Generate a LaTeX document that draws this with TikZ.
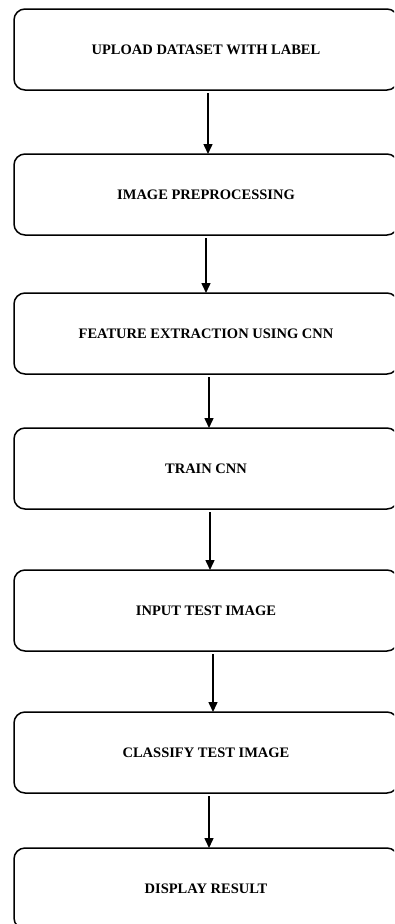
\documentclass[tikz,border=0pt]{standalone}
\usepackage{fontspec}
\setmainfont{Liberation Serif}
\usepackage{tikz}
\usetikzlibrary{shapes.geometric, arrows.meta}
\usetikzlibrary{positioning}
\tikzstyle{process} = [rectangle, rounded corners=11pt, minimum width=384pt, minimum height=81pt, outer sep=0pt, text centered, draw=black, line width=1.5pt, font=\fontsize{14.5}{16}\selectfont\bfseries]
\tikzstyle{arrow} = [line width=1.5pt,-{Triangle[length=10pt,width=9pt]},shorten <=3pt]

\begin{document}
\begin{tikzpicture}[x=1pt, y=-1pt]
\useasboundingbox (0,0) rectangle (394,924);
\clip (0,0) rectangle (394,924);
\node (upload) [process] at (206,49.5) {UPLOAD DATASET WITH LABEL};
\node (prep) [process, below=64pt of upload] {IMAGE PREPROCESSING};
\node (feat) [process, below=58pt of prep] {FEATURE EXTRACTION USING CNN};
\node (train) [process, below=54pt of feat] {TRAIN CNN};
\node (input) [process, below=61pt of train] {INPUT TEST IMAGE};
\node (classify) [process, below=61pt of input] {CLASSIFY TEST IMAGE};
\node (result) [process, below=55pt of classify] {DISPLAY RESULT};
\draw [arrow] ([xshift=2pt]upload.south) -- ([xshift=2pt]prep.north);
\draw [arrow] ([xshift=0pt]prep.south) -- ([xshift=0pt]feat.north);
\draw [arrow] ([xshift=3pt]feat.south) -- ([xshift=3pt]train.north);
\draw [arrow] ([xshift=4pt]train.south) -- ([xshift=4pt]input.north);
\draw [arrow] ([xshift=7pt]input.south) -- ([xshift=7pt]classify.north);
\draw [arrow] ([xshift=3pt]classify.south) -- ([xshift=3pt]result.north);
\end{tikzpicture}
\end{document}
